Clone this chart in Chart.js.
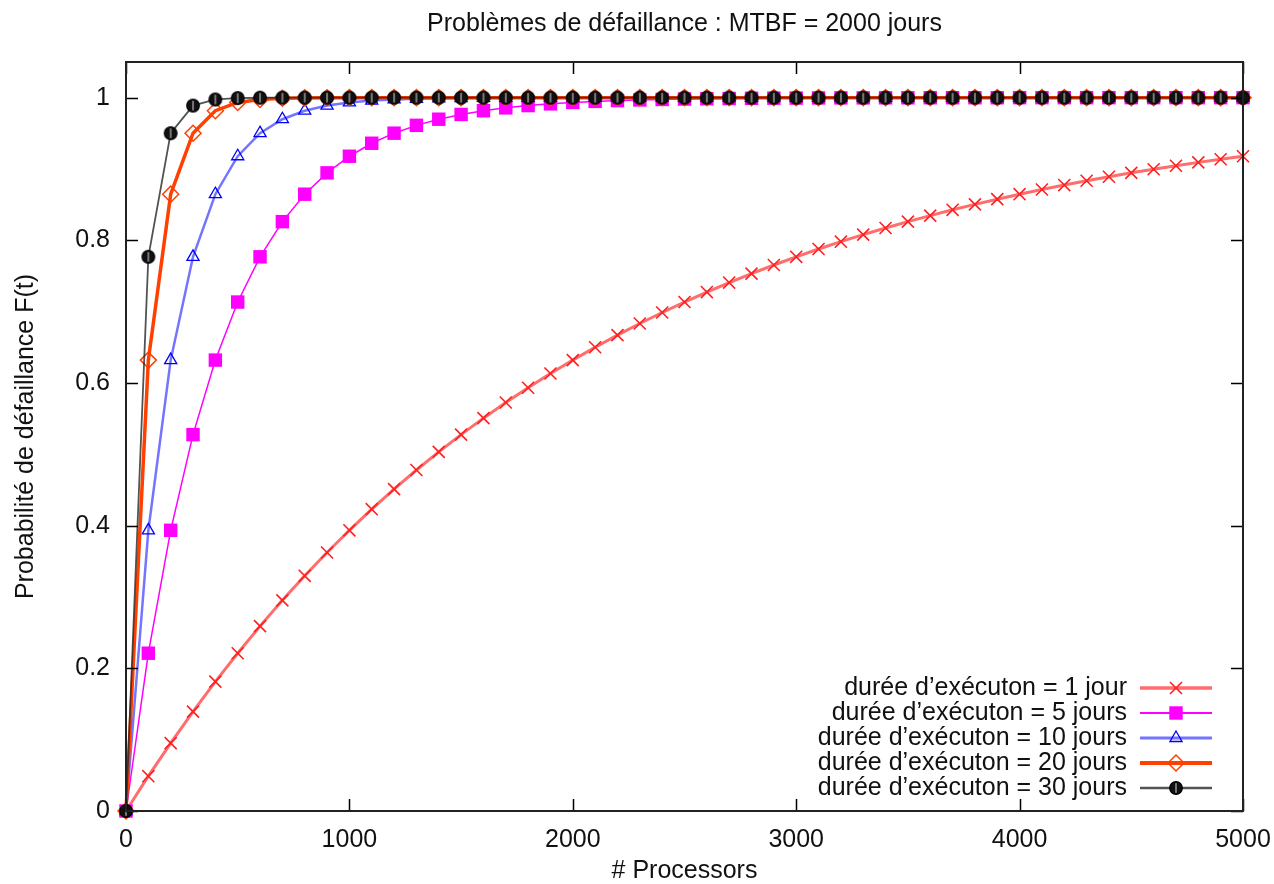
<!DOCTYPE html>
<html><head><meta charset="utf-8">
<script src="https://cdn.jsdelivr.net/npm/chart.js@4.4.0/dist/chart.umd.min.js"></script>
<style>html,body{margin:0;padding:0;background:#fff}canvas{display:block}</style>
</head><body>
<canvas id="c" width="1274" height="884"></canvas>
<script>
// ---- data ----
const processors = [0,100,200,300,400,500,600,700,800,900,1000,1100,1200,1300,1400,1500,1600,1700,1800,1900,2000,2100,2200,2300,2400,2500,2600,2700,2800,2900,3000,3100,3200,3300,3400,3500,3600,3700,3800,3900,4000,4100,4200,4300,4400,4500,4600,4700,4800,4900,5000];
const jour1 = [0,0.0488,0.0952,0.1393,0.1813,0.2212,0.2592,0.2953,0.3297,0.3624,0.3935,0.4231,0.4512,0.4780,0.5034,0.5276,0.5507,0.5726,0.5934,0.6133,0.6321,0.6501,0.6671,0.6834,0.6988,0.7135,0.7275,0.7408,0.7534,0.7654,0.7769,0.7878,0.7981,0.8080,0.8173,0.8262,0.8347,0.8428,0.8504,0.8577,0.8647,0.8713,0.8775,0.8835,0.8892,0.8946,0.8997,0.9046,0.9093,0.9137,0.9179];
const jours5 = [0,0.2212,0.3935,0.5276,0.6321,0.7135,0.7769,0.8262,0.8647,0.8946,0.9179,0.9361,0.9502,0.9612,0.9698,0.9765,0.9817,0.9857,0.9889,0.9913,0.9933,0.9948,0.9959,0.9968,0.9975,0.9981,0.9985,0.9988,0.9991,0.9993,0.9994,0.9996,0.9997,0.9997,0.9998,0.9998,0.9999,0.9999,0.9999,0.9999,1,1,1,1,1,1,1,1,1,1,1];
const jours10 = [0,0.3935,0.6321,0.7769,0.8647,0.9179,0.9502,0.9698,0.9817,0.9889,0.9933,0.9959,0.9975,0.9985,0.9991,0.9994,0.9997,0.9998,0.9999,0.9999,1,1,1,1,1,1,1,1,1,1,1,1,1,1,1,1,1,1,1,1,1,1,1,1,1,1,1,1,1,1,1];
const jours20 = [0,0.6321,0.8647,0.9502,0.9817,0.9933,0.9975,0.9991,0.9997,0.9999,1,1,1,1,1,1,1,1,1,1,1,1,1,1,1,1,1,1,1,1,1,1,1,1,1,1,1,1,1,1,1,1,1,1,1,1,1,1,1,1,1];
const jours30 = [0,0.7769,0.9502,0.9889,0.9975,0.9994,0.9999,1,1,1,1,1,1,1,1,1,1,1,1,1,1,1,1,1,1,1,1,1,1,1,1,1,1,1,1,1,1,1,1,1,1,1,1,1,1,1,1,1,1,1,1];
const seriesLabels = ["durée d\u2019exécuton = 1 jour","durée d\u2019exécuton = 5 jours","durée d\u2019exécuton = 10 jours","durée d\u2019exécuton = 20 jours","durée d\u2019exécuton = 30 jours"];
const xTicks = [0,1000,2000,3000,4000,5000];
const yTicks = [0,0.2,0.4,0.6,0.8,1];
const yTickLabels = ["0","0.2","0.4","0.6","0.8","1"];
const chartTitle = "Problèmes de défaillance : MTBF = 2000 jours";
const xTitle = "# Processors";
const yTitle = "Probabilité de défaillance F(t)";

// ---- styles ----
const FONT = '"Liberation Sans", Arial, sans-serif';
const FS = 25;
const TXT = '#111';

function halfCircle(){
  const c=document.createElement('canvas'); c.width=16; c.height=16;
  const g=c.getContext('2d');
  g.beginPath(); g.arc(8,8,6.3,0,2*Math.PI); g.fillStyle='#111'; g.fill();
  g.lineWidth=1.2; g.strokeStyle='#000'; g.stroke();
  g.fillStyle='rgba(190,190,190,0.85)'; g.fillRect(7.3,3.2,1.4,9.6);
  return c;
}

const pts = arr => processors.map((x,i)=>({x:x,y:arr[i]}));

const datasets = [
  {label:seriesLabels[0], data:pts(jour1), borderColor:'rgba(255,60,60,0.75)', borderWidth:3,
   pointStyle:'crossRot', pointRadius:8.5, pointBorderColor:'#ff2020', pointBackgroundColor:'#ff2020', pointBorderWidth:1.6, order:5},
  {label:seriesLabels[1], data:pts(jours5), borderColor:'#ff00ff', borderWidth:1.5,
   pointStyle:'rect', pointRadius:9.5, pointBorderColor:'#ff00ff', pointBackgroundColor:'#ff00ff', pointBorderWidth:0, order:4},
  {label:seriesLabels[2], data:pts(jours10), borderColor:'rgba(70,70,255,0.75)', borderWidth:2.5,
   pointStyle:'triangle', pointRadius:7, pointBorderColor:'#0000ff', pointBackgroundColor:'rgba(0,0,0,0)', pointBorderWidth:1.3, order:3},
  {label:seriesLabels[3], data:pts(jours20), borderColor:'#ff4000', borderWidth:3.5,
   pointStyle:'rectRot', pointRadius:8, pointBorderColor:'#ff4000', pointBackgroundColor:'rgba(0,0,0,0)', pointBorderWidth:1.5, order:2},
  {label:seriesLabels[4], data:pts(jours30), borderColor:'rgba(40,40,40,0.8)', borderWidth:1.8,
   pointStyle:halfCircle(), pointRadius:6.5, pointBorderColor:'#000', pointBackgroundColor:'#111', pointBorderWidth:1, order:1}
];
datasets.forEach(d=>{d.tension=0; d.fill=false; d.clip=false; d.pointHoverRadius=d.pointRadius;});

const framePlugin = {
  id:'frame',
  afterDraw(chart){
    const ctx=chart.ctx, a=chart.chartArea, xs=chart.scales.x, ys=chart.scales.y;
    ctx.save();
    ctx.strokeStyle='#000'; ctx.lineWidth=1.5;
    const TL=12;
    ctx.beginPath();
    xTicks.forEach(v=>{const px=Math.round(xs.getPixelForValue(v))+0.5;
      ctx.moveTo(px,a.bottom); ctx.lineTo(px,a.bottom-TL);
      ctx.moveTo(px,a.top); ctx.lineTo(px,a.top+TL);});
    yTicks.forEach(v=>{const py=Math.round(ys.getPixelForValue(v))+0.5;
      ctx.moveTo(a.left,py); ctx.lineTo(a.left+TL,py);
      ctx.moveTo(a.right,py); ctx.lineTo(a.right-TL,py);});
    ctx.stroke();
    ctx.strokeStyle='#222'; ctx.lineWidth=2;
    ctx.strokeRect(a.left,a.top,a.right-a.left,a.bottom-a.top);
    // legend
    ctx.font=FS+'px '+FONT; ctx.textAlign='right'; ctx.textBaseline='middle'; ctx.fillStyle=TXT;
    chart.data.datasets.forEach((d,i)=>{
      const y=688+25*i;
      ctx.fillStyle=TXT; ctx.fillText(d.label,1127,y);
      ctx.strokeStyle=d.borderColor; ctx.lineWidth=d.borderWidth+0.5;
      ctx.beginPath(); ctx.moveTo(1140,y); ctx.lineTo(1212,y); ctx.stroke();
      ctx.fillStyle=d.pointBackgroundColor; ctx.strokeStyle=d.pointBorderColor; ctx.lineWidth=d.pointBorderWidth||1;
      if (Chart.helpers && Chart.helpers.drawPoint){
        Chart.helpers.drawPoint(ctx,{pointStyle:d.pointStyle,rotation:0,radius:d.pointRadius,borderWidth:d.pointBorderWidth},1176,y);
      }
    });
    ctx.restore();
  }
};

new Chart(document.getElementById('c'),{
  type:'line',
  data:{datasets:datasets},
  options:{
    responsive:false, animation:false,
    layout:{padding:{left:0,right:31,top:0,bottom:0}},
    plugins:{
      legend:{display:false}, tooltip:{enabled:false},
      title:{display:true, text:chartTitle, fullSize:false, color:TXT,
        font:{family:FONT,size:FS,weight:'normal',lineHeight:1.2}, padding:{top:9,bottom:23}}
    },
    scales:{
      x:{type:'linear', min:0, max:5000,
        afterBuildTicks:s=>{s.ticks=xTicks.map(v=>({value:v}));},
        afterFit:s=>{s.height=73; s.paddingLeft=0; s.paddingRight=0;},
        grid:{display:false,drawTicks:false}, border:{display:false},
        ticks:{color:TXT,font:{family:FONT,size:FS},padding:14,maxRotation:0,autoSkip:false,callback:v=>String(v)},
        title:{display:true,text:xTitle,color:TXT,font:{family:FONT,size:FS,lineHeight:1},padding:{top:0,bottom:0}}
      },
      y:{type:'linear', min:0, max:1.05,
        afterBuildTicks:s=>{s.ticks=yTicks.map(v=>({value:v}));},
        afterFit:s=>{s.width=126; s.paddingTop=0; s.paddingBottom=0;},
        grid:{display:false,drawTicks:false}, border:{display:false},
        ticks:{color:TXT,font:{family:FONT,size:FS},padding:16,autoSkip:false,callback:(v,i)=>yTickLabels[i]},
        title:{display:true,text:yTitle,color:TXT,font:{family:FONT,size:FS,lineHeight:1},padding:{top:14,bottom:0}}
      }
    }
  },
  plugins:[framePlugin]
});
</script>
</body></html>
